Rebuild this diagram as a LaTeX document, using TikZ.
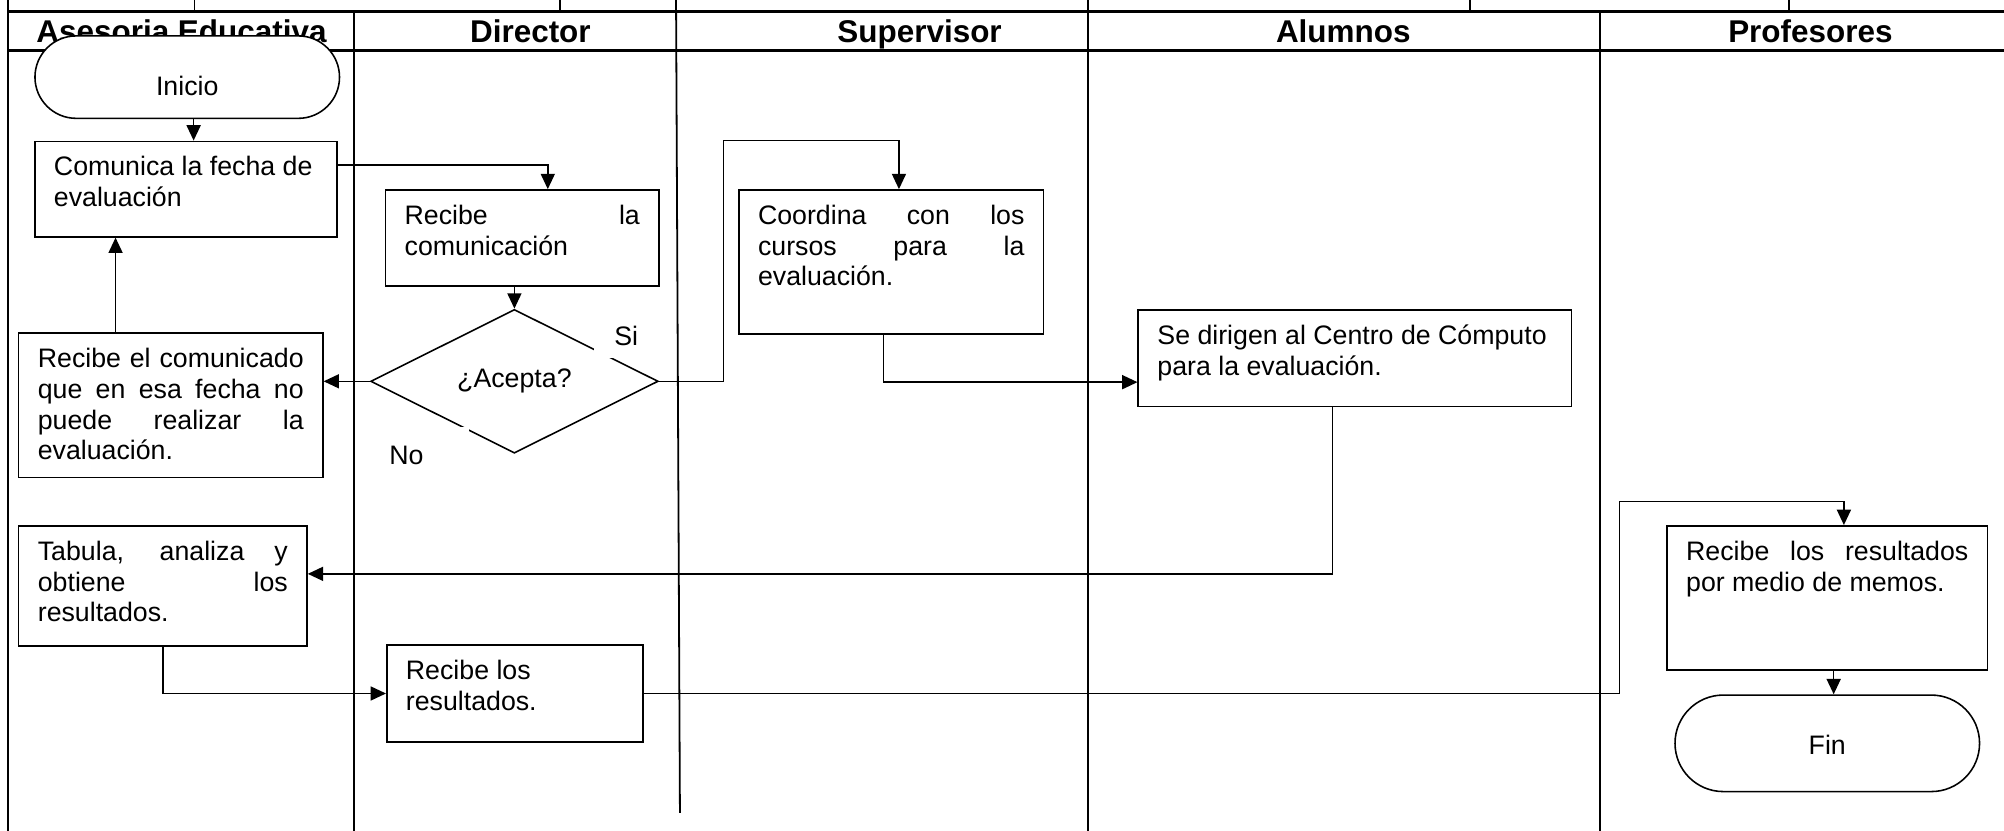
\documentclass[tikz,border=0pt]{standalone}
\usepackage{fontspec}
\setmainfont{Liberation Sans}
\usepackage{tikz}
\usetikzlibrary{
    arrows.meta,
    shapes.geometric,
    shapes.misc,
    positioning
}
\tikzstyle{lane} = [
    line width=0.8pt,
    draw=black
]
\tikzstyle{headline} = [
    line width=1.1pt,
    draw=black
]
\tikzstyle{lanetitle} = [
    anchor=base,
    inner sep=0pt,
    font=\fontsize{14}{16}\selectfont\bfseries
]
\tikzstyle{task} = [
    rectangle,
    draw=black,
    line width=0.7pt,
    fill=white,
    anchor=north west,
    inner xsep=0.3cm,
    inner ysep=0.19cm,
    text height=0.35cm,
    align=justify,
    font=\fontsize{11.9}{13.7}\selectfont
]
\tikzstyle{terminal} = [
    rounded rectangle,
    draw=black,
    line width=0.7pt,
    fill=white,
    minimum width=5cm,
    text depth=0cm,
    font=\fontsize{11.9}{13.7}\selectfont
]
\tikzstyle{decision} = [
    diamond,
    draw=black,
    line width=0.7pt,
    fill=white,
    minimum width=4.5cm,
    minimum height=2.25cm,
    inner sep=0pt,
    font=\fontsize{11.9}{13.7}\selectfont
]
\tikzstyle{answer} = [
    fill=white,
    inner sep=0pt,
    font=\fontsize{11.9}{13.7}\selectfont
]
\tikzstyle{arrow} = [
    ->,
    >={Triangle[length=0.24cm, width=0.22cm]},
    line width=0.65pt,
    draw=black
]

\begin{document}
\begin{tikzpicture}
    \useasboundingbox (0,0) rectangle (31.36,-13.0);

    % Lanes
    \draw[lane] (0.12,0) -- (0.12,-13.0);
    \foreach \x in {3.044, 8.76, 10.58, 17.02, 23.0, 28.0}
        \draw[lane] (\x,0) -- (\x,-0.18);
    \draw[lane] (5.54,-0.18) -- (5.54,-13.0);
    \draw[lane] (10.58,-0.18) -- (10.64,-12.72);
    \draw[lane] (17.02,-0.18) -- (17.02,-13.0);
    \draw[lane] (25.04,-0.18) -- (25.04,-13.0);
    \draw[headline] (0.12,-0.18) -- (31.36,-0.18);
    \draw[headline] (0.12,-0.79) -- (31.36,-0.79);

    % Lane titles
    \node[lanetitle] (tasesoria) at (2.84,-0.66) {Asesoria Educativa};
    \node[lanetitle] (tdirector) at (8.3,-0.66) {Director};
    \node[lanetitle] (tsupervisor) at (14.39,-0.66) {Supervisor};
    \node[lanetitle] (talumnos) at (21.02,-0.66) {Alumnos};
    \node[lanetitle] (tprofesores) at (28.33,-0.66) {Profesores};

    % Asesoria Educativa
    \node[terminal, minimum height=1.29cm, text height=0.58cm] (inicio) at (2.93,-1.207) {Inicio};
    \node[task, text width=4.128cm, text depth=0.764cm, align=flush left] (comunica) at (0.532,-2.2) {Comunica la fecha de\\evaluación};
    \node[task, text width=4.16cm, text depth=1.53cm] (noacepta) at (0.28,-5.2) {Recibe el comunicado\linebreak que en esa fecha no\linebreak puede realizar la\linebreak evaluación.};
    \node[task, text width=3.912cm, text depth=1.148cm] (tabula) at (0.28,-8.216) {Tabula, analiza y\linebreak obtiene los\linebreak resultados.};

    % Director
    \node[task, text width=3.68cm, text depth=0.77cm] (recibecom) at (6.02,-2.96) {Recibe la\linebreak comunicación};
    \node[decision] (acepta) at (8.05,-5.967) {¿Acepta?};
    \node[answer, minimum width=1.0cm, minimum height=0.7cm] (si) at (9.8,-5.25) {Si};
    \node[answer, anchor=north east, text width=1.08cm, inner xsep=0.16cm, minimum height=0.88cm, align=flush left] (no) at (7.34,-6.68) {No};
    \node[task, text width=3.41cm, text depth=0.79cm, align=flush left] (recibres) at (6.04,-10.08) {Recibe los\\resultados.};

    % Supervisor
    \node[task, text width=4.17cm, text depth=1.524cm] (coordina) at (11.55,-2.96) {Coordina con los\linebreak cursos para la\linebreak evaluación.};

    % Alumnos
    \node[task, text width=6.18cm, text depth=0.778cm, align=flush left] (sedirigen) at (17.8,-4.84) {Se dirigen al Centro de Cómputo\\para la evaluación.};

    % Profesores
    \node[task, text width=4.416cm, text depth=1.524cm] (memos) at (26.074,-8.216) {Recibe los resultados\linebreak por medio de memos.};
    \node[terminal, minimum height=1.51cm, text height=0.36cm, below=0.37cm of memos] (fin) {Fin};

    % Arrows
    \draw[arrow] ([xshift=0.1cm]inicio.south) -- ([xshift=0.1cm]inicio.south |- comunica.north);
    \draw[arrow] ([yshift=0.377cm]comunica.east) -| ([xshift=0.4cm]recibecom.north);
    \draw[arrow] (recibecom.south -| acepta.north) -- (acepta.north);
    \draw[arrow] (acepta.west) -- (acepta.west -| noacepta.east);
    \draw[arrow] ([xshift=-0.864cm]noacepta.north) -- ([xshift=-0.864cm]noacepta.north |- comunica.south);
    \draw[arrow] (acepta.east) -| ++(1.01,3.767) -| ([xshift=0.12cm]coordina.north);
    \draw[arrow] ([xshift=-0.124cm]coordina.south) |- ([yshift=-0.374cm]sedirigen.west);
    \draw[arrow] ([xshift=-0.35cm]sedirigen.south) |- ([yshift=0.187cm]tabula.east);
    \draw[arrow] (tabula.south) |- (recibres.west);
    \draw[arrow] (recibres.east) -| ++(15.27,3.004) -| ([xshift=0.26cm]memos.north);
    \draw[arrow] ([xshift=0.1cm]memos.south) -- ([xshift=0.1cm]memos.south |- fin.north);
\end{tikzpicture}
\end{document}
